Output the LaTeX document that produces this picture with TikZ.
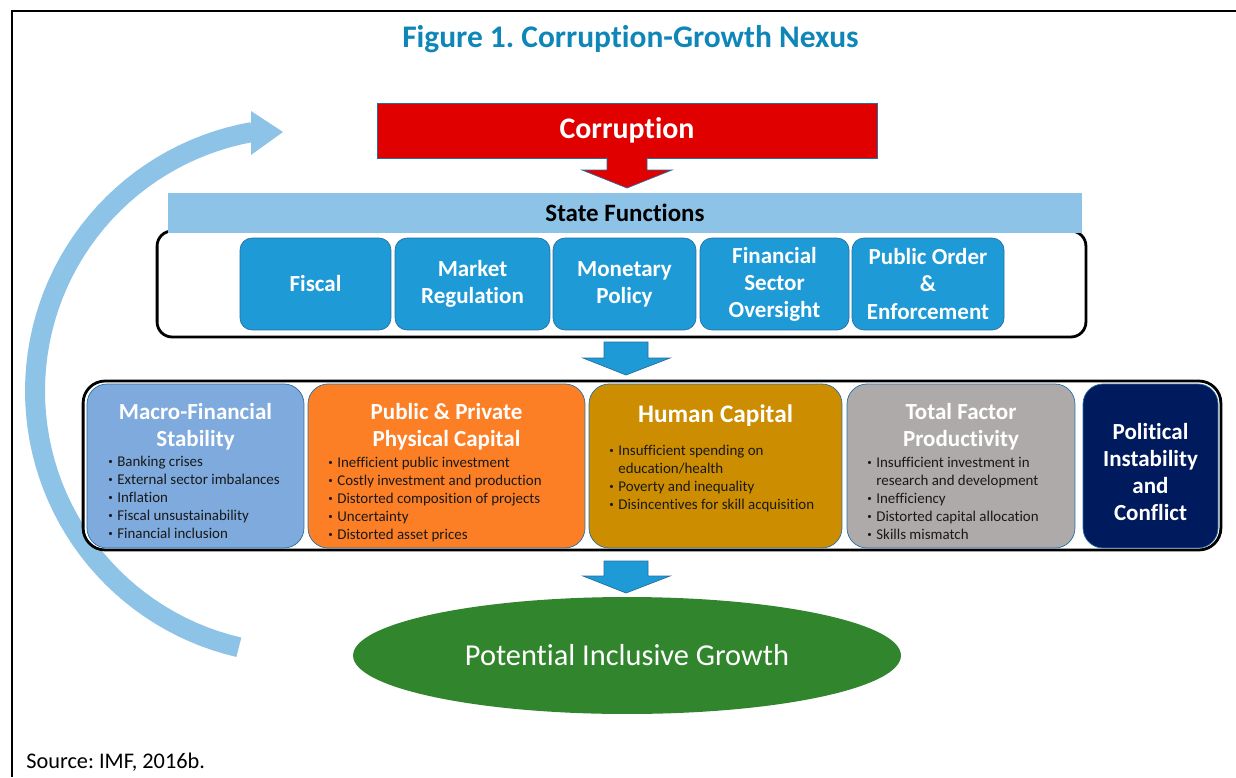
\documentclass[tikz,border=0pt]{standalone}
\usepackage{graphicx}
\usepackage{fontspec}
\setmainfont{Carlito}[Ligatures=CommonOff]
\usetikzlibrary{positioning}
\usetikzlibrary{shapes.geometric}
\frenchspacing

\definecolor{titleblue}{RGB}{14,134,184}
\definecolor{corrred}{RGB}{224,0,0}
\definecolor{barblue}{RGB}{141,195,230}
\definecolor{funcblue}{RGB}{30,154,214}
\definecolor{edgeblue}{RGB}{38,110,160}
\definecolor{macroblue}{RGB}{126,170,221}
\definecolor{physorange}{RGB}{252,127,38}
\definecolor{humangold}{RGB}{204,142,0}
\definecolor{tfpgray}{RGB}{174,170,170}
\definecolor{polnavy}{RGB}{0,26,94}
\definecolor{growgreen}{RGB}{49,133,44}

\newcommand{\itm}{\makebox[0.21cm][l]{\hspace{0.03cm}\raisebox{0.1em}{\scalebox{0.6}{\textbullet}}}}
\newcommand{\cnt}{\hspace*{0.21cm}}

\tikzset{
    funcbox/.style={draw=edgeblue, line width=0.4pt, fill=funcblue, rounded corners=0.24cm,
        minimum height=1.84cm, inner sep=0pt, text=white, align=center,
        font=\fontsize{13.1pt}{15.4pt}\selectfont\bfseries},
    groupbox/.style={draw=black, line width=1.6pt, fill=white},
    effbox/.style={draw=edgeblue, line width=0.4pt, rounded corners=0.4cm,
        minimum height=3.28cm, inner sep=0pt},
    headtext/.style={text=white, align=center, inner sep=0pt,
        font=\fontsize{13.1pt}{15.4pt}\selectfont\bfseries},
    bulltext/.style={anchor=north west, align=left, inner sep=0pt, text=black!90,
        font=\fontsize{8.5pt}{10.24pt}\selectfont},
    downarrow/.style={fill=funcblue, draw=edgeblue, line width=0.4pt},
    loopline/.style={draw=barblue, line width=0.4cm}
}

\begin{document}
\begin{tikzpicture}[x=0.02cm, y=-0.02cm]
            \useasboundingbox (0,0) rectangle (1236,777);
            \draw[line width=1.1pt] (12,777) -- (12,11) -- (1236,11);
            \node[anchor=base, inner sep=0pt, text=titleblue,
                font=\fontsize{17.9pt}{20pt}\selectfont\bfseries] (title) at (630.5,48) {Figure 1. Corruption-Growth Nexus};

            \draw[loopline] plot[domain=103:260, samples=60] ({298+263*cos(\x)}, {391+263*sin(\x)});
            \fill[barblue] (251,111) -- (283,132) -- (251,155) -- cycle;

            \node[draw=edgeblue, fill=corrred, minimum width=10cm, minimum height=1.1cm, text=white,
                font=\fontsize{17pt}{20pt}\selectfont\bfseries] (corr) at (627,130.5) {Corruption};
            \draw[downarrow, fill=corrred] (607,157) -- (607,170) -- (582,170) -- (627,188)
                -- (672,170) -- (647,170) -- (647,157);

            \node[groupbox, rounded corners=0.3cm, minimum width=18.58cm, minimum height=2.12cm] (funcs) at (621.5,284) {};
            \node[fill=barblue, minimum width=18.28cm, minimum height=0.8cm,
                font=\fontsize{14.2pt}{16pt}\selectfont\bfseries] (state) at (625,213) {State Functions};
            \node[funcbox, minimum width=3.02cm] (fiscal) at (315.5,284) {Fiscal};
            \node[funcbox, minimum width=3.10cm] (market) at (472.5,284) {Market\\Regulation};
            \node[funcbox, minimum width=2.86cm] (monetary) at (624.5,284) {Monetary\\Policy};
            \node[funcbox, minimum width=2.98cm] (finsector) at (774.5,284) {Financial\\Sector\\Oversight};
            \node[funcbox, minimum width=3.04cm] (order) at (928,284) {Public Order\\\&\\Enforcement};

            \draw[downarrow, shift={(626,342)}] (-22,0) -- (-22,16) -- (-43,16) -- (0,33)
                -- (44,16) -- (22,16) -- (22,0) -- cycle;

            \node[groupbox, rounded corners=0.44cm, minimum width=22.76cm, minimum height=3.38cm] (channels) at (652,465.5) {};
            \node[effbox, fill=macroblue, minimum width=4.34cm] (macro) at (195.5,466) {};
            \node[effbox, fill=physorange, minimum width=5.54cm] (physical) at (446.5,466) {};
            \node[effbox, fill=humangold, minimum width=5.06cm] (human) at (715.5,466) {};
            \node[effbox, fill=tfpgray, minimum width=4.56cm] (tfp) at (961,466) {};
            \node[effbox, fill=polnavy, minimum width=2.70cm] (political) at (1150.5,466) {};

            \node[headtext, below=0.38cm of macro.north] (macroT) {Macro-Financial\\Stability};
            \node[headtext, below=0.38cm of physical.north] (physicalT) {Public \& Private\\Physical Capital};
            \node[headtext, below=0.42cm of human.north, font=\fontsize{14.4pt}{16pt}\selectfont\bfseries] (humanT) {Human Capital};
            \node[headtext, below=0.38cm of tfp.north] (tfpT) {Total Factor\\Productivity};
            \node[headtext] (politicalT) at (1150.5,472) {Political\\Instability\\and\\Conflict};

            \node[bulltext] (macroL) at (106.5,455.5) {\itm Banking crises\\\itm External sector imbalances\\\itm Inflation\\\itm Fiscal unsustainability\\\itm Financial inclusion};
            \node[bulltext] (physicalL) at (326.5,456.5) {\itm Inefficient public investment\\\itm Costly investment and production\\\itm Distorted composition of projects\\\itm Uncertainty\\\itm Distorted asset prices};
            \node[bulltext] (humanL) at (607.5,444.5) {\itm Insufficient spending on\\\cnt education/health\\\itm Poverty and inequality\\\itm Disincentives for skill acquisition};
            \node[bulltext] (tfpL) at (865.5,456.5) {\itm Insufficient investment in\\\cnt research and development\\\itm Inefficiency\\\itm Distorted capital allocation\\\itm Skills mismatch};

            \draw[downarrow, shift={(626,561)}] (-22,0) -- (-22,15) -- (-43,15) -- (0,32)
                -- (44,15) -- (22,15) -- (22,0) -- cycle;

            \node[ellipse, fill=growgreen, minimum width=10.96cm, minimum height=2.34cm, inner sep=0pt, text=white,
                font=\fontsize{17.3pt}{20pt}\selectfont] (growth) at (627,655.5) {Potential Inclusive Growth};

            \node[anchor=base west, inner sep=0pt, font=\fontsize{12.7pt}{15pt}\selectfont] (source) at (26,768) {Source: IMF, 2016b.};
        \end{tikzpicture}
\end{document}
